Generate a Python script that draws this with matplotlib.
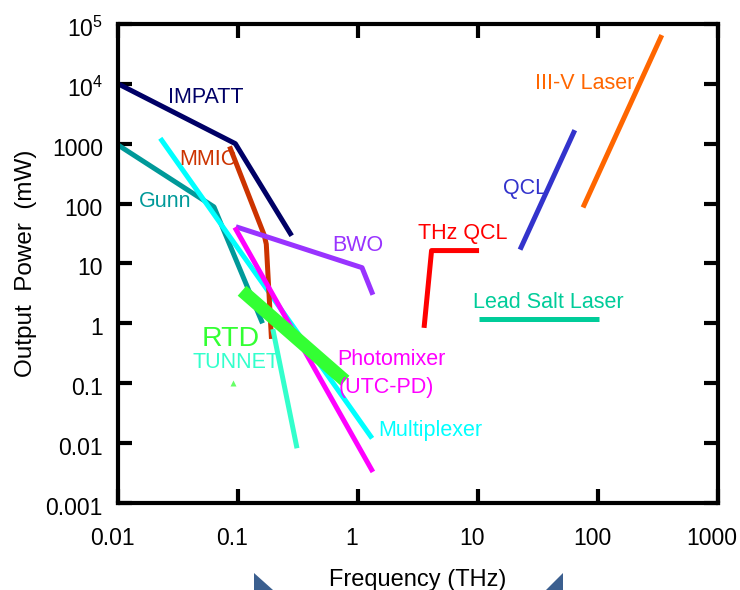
import matplotlib.pyplot as plt
from matplotlib.patches import Polygon
from matplotlib.transforms import ScaledTranslation

plt.rcParams['font.family'] = ['Liberation Sans', 'DejaVu Sans']
plt.rcParams['mathtext.fontset'] = 'custom'
plt.rcParams['mathtext.rm'] = 'Liberation Sans'

# ---- data (THz, mW) ----
impatt_f = [0.01, 0.095, 0.28]
impatt_p = [1e4, 1000, 29]
mmic_f = [0.085, 0.165, 0.172, 0.19]
mmic_p = [900, 30, 21, 0.55]
gunn_f = [0.01, 0.063, 0.16]
gunn_p = [950, 88, 1.0]
mux_f = [0.0225, 1.31]
mux_p = [1230, 0.012]
photo_f = [0.094, 1.33]
photo_p = [40, 0.0033]
bwo_f = [0.096, 1.08, 1.33]
bwo_p = [41, 8.5, 3.0]
rtd_f = [0.108, 0.78]
rtd_p = [3.5, 0.11]
tunnet_f = [0.195, 0.31]
tunnet_p = [0.8, 0.0082]
tunnet_pt_f = [0.091]
tunnet_pt_p = [0.1]
thzqcl_f = [3.55, 4.1, 10.2]
thzqcl_p = [0.84, 16.4, 16.4]
qcl_f = [22.4, 64]
qcl_p = [17, 1680]
iiiv_f = [75, 340]
iiiv_p = [86, 65000]
lead_f = [10.2, 101]
lead_p = [1.19, 1.19]

xticks = [0.01, 0.1, 1, 10, 100, 1000]
xticklabels = ['0.01', '0.1', '1', '10', '100', '1000']
yticks = [0.001, 0.01, 0.1, 1, 10, 100, 1000, 1e4, 1e5]
yticklabels = ['0.001', '0.01', '0.1', '1', '10', '100', '1000',
               r'$10^4$', r'$10^5$']

fig = plt.figure(figsize=(7.4, 5.9), dpi=100)
ax = fig.add_axes([0.1595, 0.1475, 0.8108, 0.812])
ax.set_xscale('log')
ax.set_yscale('log')
ax.set_xlim(0.01, 1000)
ax.set_ylim(0.001, 1e5)

lw = 3.6
ax.plot(impatt_f, impatt_p, color='#000066', lw=lw, solid_capstyle='butt')
ax.plot(gunn_f, gunn_p, color='#009999', lw=lw, solid_capstyle='butt')
ax.plot(mux_f, mux_p, color='#00ffff', lw=lw, solid_capstyle='butt')
ax.plot(mmic_f, mmic_p, color='#cc3300', lw=lw, solid_capstyle='butt')
ax.plot(bwo_f, bwo_p, color='#9933ff', lw=lw, solid_capstyle='butt')
ax.plot(photo_f, photo_p, color='#ff00ff', lw=lw, solid_capstyle='butt')
ax.plot(tunnet_f, tunnet_p, color='#33ffcc', lw=lw, solid_capstyle='butt')
ax.plot(rtd_f, rtd_p, color='#33ff33', lw=9.5, solid_capstyle='butt')
ax.plot(tunnet_pt_f, tunnet_pt_p, '^', color='#66ff66', ms=4, mec='none')
ax.plot(thzqcl_f, thzqcl_p, color='#ff0000', lw=lw, solid_capstyle='butt')
ax.plot(qcl_f, qcl_p, color='#3333cc', lw=lw, solid_capstyle='butt')
ax.plot(iiiv_f, iiiv_p, color='#ff6600', lw=lw, solid_capstyle='butt')
ax.plot(lead_f, lead_p, color='#00cc99', lw=lw, solid_capstyle='butt')

fs = 15.5
labels = [
    ('IMPATT', 0.0261, 6000, '#000066', fs),
    ('MMIC', 0.0322, 551, '#cc3300', fs),
    ('Gunn', 0.0150, 109, '#009999', fs),
    ('BWO', 0.607, 20, '#9933ff', fs),
    ('RTD', 0.0501, 0.556, '#33ff33', 20.5),
    ('TUNNET', 0.0414, 0.22, '#33ffcc', fs),
    ('Photomixer', 0.668, 0.247, '#ff00ff', fs),
    ('(UTC-PD)', 0.695, 0.0841, '#ff00ff', fs),
    ('Multiplexer', 1.468, 0.016, '#00ffff', fs),
    ('THz QCL', 3.16, 31.8, '#ff0000', fs),
    ('QCL', 16.2, 180, '#3333cc', fs),
    ('III-V Laser', 29.9, 10300, '#ff6600', fs),
    ('Lead Salt Laser', 9.08, 2.22, '#00cc99', fs),
]
for txt, x, y, c, s in labels:
    ax.text(x, y, txt, color=c, fontsize=s, ha='left', va='center')

for side in ['left', 'right', 'top', 'bottom']:
    ax.spines[side].set_linewidth(3)
ax.tick_params(which='major', direction='in', length=10, width=3,
               top=True, right=True, labelsize=16.5)
ax.tick_params(axis='x', pad=17)
ax.tick_params(axis='y', pad=11)
ax.set_xticks(xticks)
ax.set_xticklabels(xticklabels)
ax.set_yticks(yticks)
ax.set_yticklabels(yticklabels)
ax.minorticks_off()

shift_x = ScaledTranslation(-6 / 100, 0, fig.dpi_scale_trans)
for lab in ax.get_xticklabels():
    lab.set_transform(lab.get_transform() + shift_x)
shift_y = ScaledTranslation(0, -3 / 100, fig.dpi_scale_trans)
for lab in ax.get_yticklabels():
    lab.set_transform(lab.get_transform() + shift_y)

ax.set_xlabel('Frequency (THz)', fontsize=17, labelpad=14)
ax.set_ylabel('Output  Power  (mW)', fontsize=17.5, labelpad=6)

# slide decoration triangles at the bottom edge
W, H = 740, 590
tri1 = [(254 / W, 1 - 573 / H), (254 / W, 0), (273 / W, 0)]
tri2 = [(563 / W, 1 - 573 / H), (563 / W, 0), (546 / W, 0)]
for t in (tri1, tri2):
    fig.patches.append(Polygon(t, closed=True, transform=fig.transFigure,
                               facecolor='#3b5f8f', edgecolor='none'))

fig.savefig('out.png', dpi=100)
